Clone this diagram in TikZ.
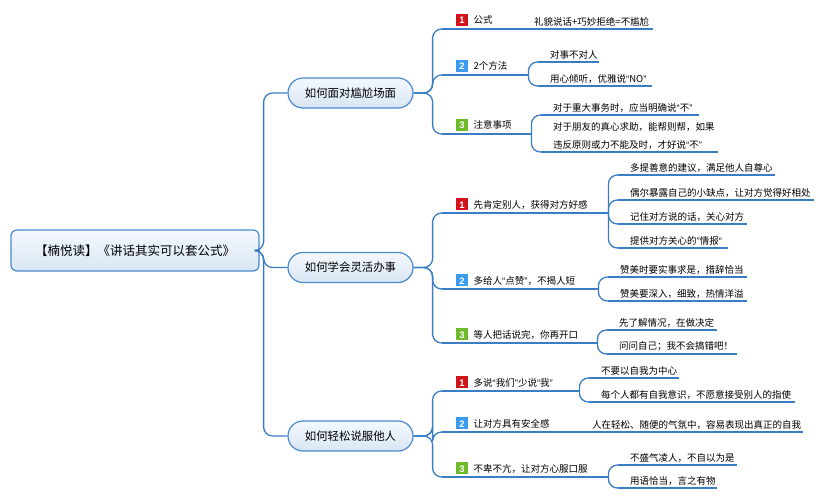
\documentclass[tikz,border=0pt]{standalone}
\usepackage{fontspec}
\setmainfont{Noto Sans CJK SC}
\newfontfamily\badgefont{Liberation Sans}
\newcommand\qo{{\badgefont “}}
\newcommand\qc{{\badgefont ”}}
\definecolor{linec}{HTML}{3B7DC4}
\definecolor{nodeb}{HTML}{4A89CE}
\definecolor{ntop}{HTML}{F4F8FD}
\definecolor{nbot}{HTML}{D9E6F4}
\definecolor{bred}{HTML}{D0141C}
\definecolor{bblue}{HTML}{3A9BF0}
\definecolor{bgreen}{HTML}{6DBB2A}
\newcommand\nb[2]{{\setlength\fboxsep{0pt}\colorbox{#1}{\makebox[11.5pt]{\rule[-1.8pt]{0pt}{11.5pt}\textcolor{white}{\badgefont\bfseries\fontsize{9.5}{9.5}\selectfont #2}}}}}
\tikzset{
  conn/.style={draw=linec, line width=1.3pt, rounded corners=9pt},
  ul/.style={append after command={(\tikzlastnode.south west) edge[draw=linec, line width=1.3pt] (\tikzlastnode.south east)}},
  leaf/.style={anchor=south west, inner xsep=0pt, inner ysep=2.5pt, font=\fontsize{9.5}{18}\selectfont, align=left, ul},
  sub/.style={leaf, inner ysep=3pt},
  topic/.style={rounded corners=15pt, draw=nodeb, line width=1.2pt, top color=ntop, bottom color=nbot, minimum width=125pt, minimum height=30pt, inner sep=0pt, font=\fontsize{11.4}{12}\selectfont},
  rootbox/.style={topic, rounded corners=6pt, minimum width=248pt, minimum height=41pt, font=\fontsize{12.5}{13}\selectfont}
}
\begin{document}
\begin{tikzpicture}[x=1pt, y=-1pt]
\useasboundingbox (0,0) rectangle (825,500);
% root and main topics
\node[rootbox] (root) at (135,250.5) {【楠悦读】《讲话其实可以套公式》};
\node[topic] (m1) at (350.5,93) {如何面对尴尬场面};
\node[topic] (m2) at (350.5,267.5) {如何学会灵活办事};
\node[topic] (m3) at (350.5,436) {如何轻松说服他人};
\draw[conn] (root.east) -- ++(4,0) |- (m1.west);
\draw[conn] (root.east) -- ++(4,0) |- (m2.west);
\draw[conn] (root.east) -- ++(4,0) |- (m3.west);
% branch 1
\node[sub, text width=70pt] (s11) at (442,29) {\hspace*{14pt}\nb{bred}{1}\hspace{6pt}公式};
\node[sub, text width=86pt] (s12) at (442,75) {\hspace*{14pt}\nb{bblue}{2}\hspace{6pt}2个方法};
\node[sub, text width=89pt] (s13) at (442,134) {\hspace*{14pt}\nb{bgreen}{3}\hspace{6pt}注意事项};
\foreach \s in {s11,s12,s13} \draw[conn] (m1.east) -- ++(19,0) |- (\s.south west);
\node[leaf, text width=131pt] (l111) at (522,29) {\hspace*{12pt}礼貌说话+巧妙拒绝=不尴尬};
\draw[conn] (s11.south east) -- (l111.south west);
\node[leaf, text width=61pt] (l121) at (538,62) {\hspace*{12pt}对事不对人};
\node[leaf, text width=114pt] (l122) at (538,86) {\hspace*{12pt}用心倾听，优雅说\qo NO\qc};
\foreach \l in {l121,l122} \draw[conn] (s12.south east) |- (\l.south west);
\node[leaf, text width=158pt] (l131) at (541,115) {\hspace*{12pt}对于重大事务时，应当明确说\qo 不\qc};
\node[leaf, text width=177pt] (l132) at (541,152) {\hspace*{12pt}对于朋友的真心求助，能帮则帮，如果\\\hspace*{12pt}违反原则或力不能及时，才好说\qo 不\qc};
\foreach \l in {l131,l132} \draw[conn] (s13.south east) |- (\l.south west);
% branch 2
\node[sub, text width=166pt] (s21) at (442,213) {\hspace*{14pt}\nb{bred}{1}\hspace{6pt}先肯定别人，获得对方好感};
\node[sub, text width=156pt] (s22) at (442,289) {\hspace*{14pt}\nb{bblue}{2}\hspace{6pt}多给人\qo 点赞\qc ，不揭人短};
\node[sub, text width=155pt] (s23) at (442,343) {\hspace*{14pt}\nb{bgreen}{3}\hspace{6pt}等人把话说完，你再开口};
\foreach \s in {s21,s22,s23} \draw[conn] (m2.east) -- ++(19,0) |- (\s.south west);
\node[leaf, text width=157pt] (l211) at (618,175) {\hspace*{12pt}多提善意的建议，满足他人自尊心};
\node[leaf, text width=196pt] (l212) at (618,200) {\hspace*{12pt}偶尔暴露自己的小缺点，让对方觉得好相处};
\node[leaf, text width=129pt] (l213) at (618,224) {\hspace*{12pt}记住对方说的话，关心对方};
\node[leaf, text width=110pt] (l214) at (618,248) {\hspace*{12pt}提供对方关心的\qc 情报\qo};
\foreach \l in {l211,l212,l213,l214} \draw[conn] (s21.south east) |- (\l.south west);
\node[leaf, text width=139pt] (l221) at (608,277) {\hspace*{12pt}赞美时要实事求是，措辞恰当};
\node[leaf, text width=139pt] (l222) at (608,301) {\hspace*{12pt}赞美要深入，细致，热情洋溢};
\foreach \l in {l221,l222} \draw[conn] (s22.south east) |- (\l.south west);
\node[leaf, text width=110pt] (l231) at (607,330) {\hspace*{12pt}先了解情况，在做决定};
\node[leaf, text width=130pt] (l232) at (607,354) {\hspace*{12pt}问问自己；我不会搞错吧！};
\foreach \l in {l231,l232} \draw[conn] (s23.south east) |- (\l.south west);
% branch 3
\node[sub, text width=137pt] (s31) at (442,391) {\hspace*{14pt}\nb{bred}{1}\hspace{6pt}多说\qo 我们\qc 少说\qo 我\qc};
\node[sub, text width=128pt] (s32) at (442,432) {\hspace*{14pt}\nb{bblue}{2}\hspace{6pt}让对方具有安全感};
\node[sub, text width=166pt] (s33) at (442,477) {\hspace*{14pt}\nb{bgreen}{3}\hspace{6pt}不卑不亢，让对方心服口服};
\foreach \s in {s31,s32,s33} \draw[conn] (m3.east) -- ++(19,0) |- (\s.south west);
\node[leaf, text width=90pt] (l311) at (589,378) {\hspace*{12pt}不要以自我为中心};
\node[leaf, text width=206pt] (l312) at (589,402) {\hspace*{12pt}每个人都有自我意识，不愿意接受别人的指使};
\foreach \l in {l311,l312} \draw[conn] (s31.south east) |- (\l.south west);
\node[leaf, text width=223pt] (l321) at (580,432) {\hspace*{12pt}人在轻松、随便的气氛中，容易表现出真正的自我};
\draw[conn] (s32.south east) -- (l321.south west);
\node[leaf, text width=119pt] (l331) at (618,465) {\hspace*{12pt}不盛气凌人，不自以为是};
\node[leaf, text width=99pt] (l332) at (618,488) {\hspace*{12pt}用语恰当，言之有物};
\foreach \l in {l331,l332} \draw[conn] (s33.south east) |- (\l.south west);
\end{tikzpicture}
\end{document}
